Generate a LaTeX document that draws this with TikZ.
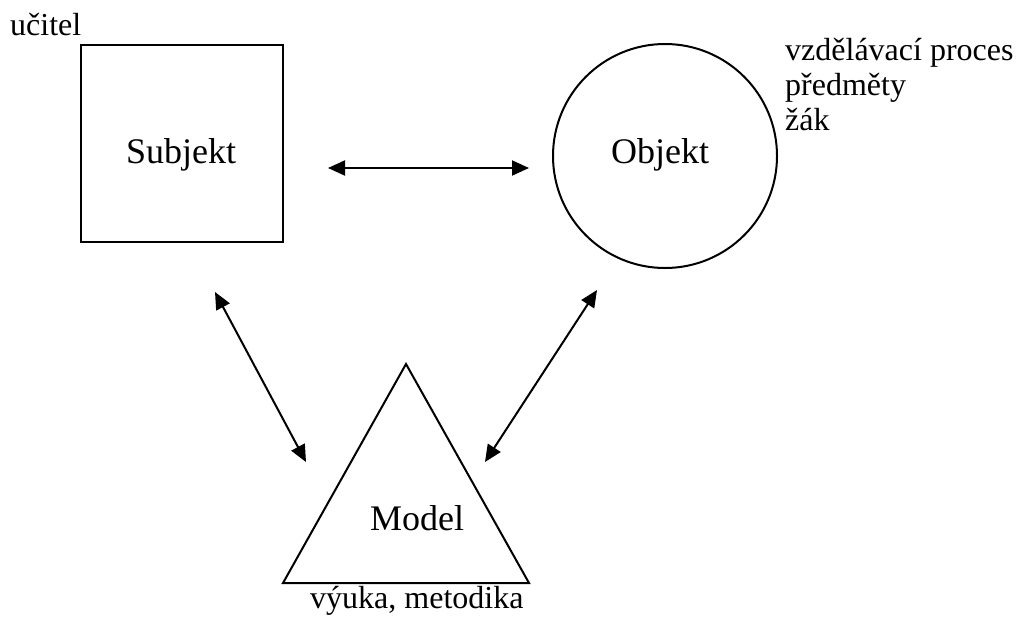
\documentclass[tikz,border=0pt]{standalone}
\usepackage{fontspec}
\setmainfont{Liberation Serif}
\usetikzlibrary{arrows.meta}
\begin{document}
\begin{tikzpicture}[x=1pt,y=-1pt,
  outline/.style={line width=2pt},
  link/.style={line width=2pt,
    {Triangle[length=17pt,width=15pt]}-{Triangle[length=17pt,width=15pt]}},
  big/.style={font=\fontsize{36}{40}\selectfont, inner sep=0pt},
  small/.style={font=\fontsize{32}{35}\selectfont, inner sep=0pt}]
\useasboundingbox (0,0) rectangle (1016,619);

% Subjekt: square
\node[draw, outline, minimum width=202pt, minimum height=197pt, inner sep=0pt] (subj) at (182,143.5) {};
\node[big, anchor=base] (subjtext) at (181,163) {Subjekt};
\node[small, anchor=base west] (ucitel) at (10,35) {učitel};

% Objekt: circle
\node[draw, outline, circle, minimum size=224pt, inner sep=0pt] (obj) at (665,156) {};
\node[big, anchor=base] (objtext) at (660,163) {Objekt};
\node[small, anchor=base west] (proces) at (785,60) {vzdělávací proces};
\node[small, anchor=base west] (predmety) at (785,95) {předměty};
\node[small, anchor=base west] (zak) at (785,130) {žák};

% Model: triangle
\coordinate (mtop) at (406,364);
\coordinate (mright) at (529,583);
\coordinate (mleft) at (283,583);
\draw[outline, line join=miter] (mtop) -- (mright) -- (mleft) -- cycle;
\node[big, anchor=base west] (modeltext) at (370,530) {Model};
\node[small, anchor=base west] (vyuka) at (310,608) {výuka, metodika};

% relations
\coordinate (so1) at (328,168);
\coordinate (so2) at (529,168);
\coordinate (sm1) at (215,292);
\coordinate (sm2) at (306,462);
\coordinate (om1) at (597,290);
\coordinate (om2) at (485,462);
\draw[link] (so1) -- (so2);
\draw[link] (sm1) -- (sm2);
\draw[link] (om1) -- (om2);
\end{tikzpicture}
\end{document}
